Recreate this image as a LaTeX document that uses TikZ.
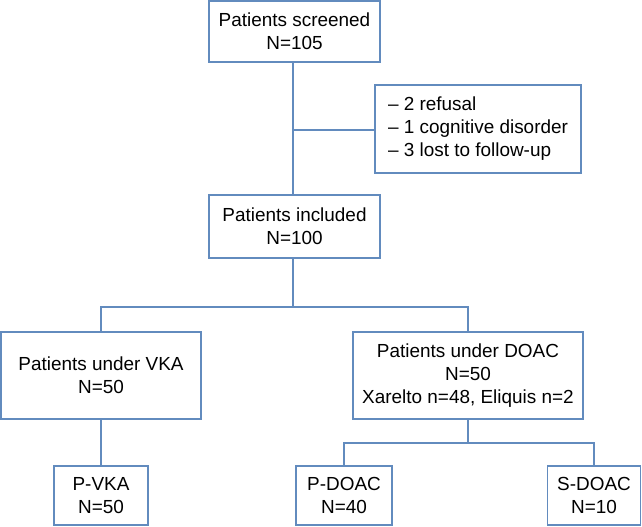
\documentclass[tikz,border=0pt]{standalone}
\usepackage{fontspec}
\setmainfont{Liberation Sans}
\definecolor{bc}{RGB}{98,139,190}
\begin{document}
\begin{tikzpicture}[x=1bp,y=-1bp,
  box/.style={draw=bc,line width=1.3bp,fill=white,inner sep=0pt,align=center,
    font=\fontsize{19}{23}\selectfont,text=black},
  conn/.style={draw=bc,line width=1.3bp}]
\useasboundingbox (0,0) rectangle (642,527);
\node[box,minimum width=171bp,minimum height=61bp] (scr) at (294.5,31.5) {Patients screened\\N=105};
\node[box,minimum width=206bp,minimum height=88bp,align=left] (exc) at (478,129) {-- 2 refusal\\-- 1 cognitive disorder\\-- 3 lost to follow-up};
\node[box,minimum width=171bp,minimum height=63bp] (inc) at (294.5,226.5) {Patients included\\N=100};
\node[box,minimum width=200bp,minimum height=87bp] (vka) at (101,375.5) {Patients under VKA\\N=50};
\node[box,minimum width=230bp,minimum height=87bp] (doac) at (468,375.5) {Patients under DOAC\\N=50\\Xarelto n=48, Eliquis n=2};
\node[box,minimum width=94bp,minimum height=59bp] (pvka) at (101,495.5) {P-VKA\\N=50};
\node[box,minimum width=96bp,minimum height=59bp] (pdoac) at (344,495.5) {P-DOAC\\N=40};
\node[box,minimum width=93bp,minimum height=59bp] (sdoac) at (594,495.5) {S-DOAC\\N=10};
\coordinate (j0) at (293,130);
\coordinate (j1) at (293,307);
\coordinate (j2) at (468,443);
\draw[conn] (scr.south -| j0) -- (inc.north -| j0);
\draw[conn] (j0) -- (exc.west |- j0);
\draw[conn] (inc.south -| j1) -- (j1);
\draw[conn] (vka.north) |- (j1) -| (doac.north);
\draw[conn] (vka.south) -- (pvka.north);
\draw[conn] (doac.south) -- (j2);
\draw[conn] (pdoac.north) |- (j2) -| (sdoac.north);
\end{tikzpicture}
\end{document}
